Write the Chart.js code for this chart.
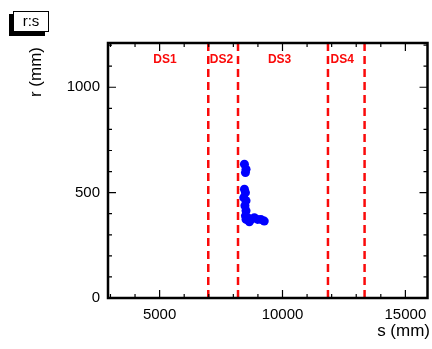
<!DOCTYPE html>
<html>
<head>
<meta charset="utf-8">
<script src="https://cdn.jsdelivr.net/npm/chart.js@4.4.0/dist/chart.umd.min.js"></script>
<style>
  body { margin: 0; background: #fff; }
  #wrap { width: 432px; height: 349px; }
</style>
</head>
<body>
<div id="wrap"><canvas id="chart" width="432" height="349"></canvas></div>
<script>
// hit positions along the beam line (s) and radius (r), both in mm
const sValues = [8450, 8516, 8492, 8451, 8492, 8423, 8516, 8472, 8516, 8492, 8516, 8585, 8653, 8717, 8855, 8988, 9121, 9258]
const rValues = [635, 611, 595, 516, 500, 476, 462, 438, 414, 390, 373, 381, 362, 373, 381, 373, 373, 365]

// detector section boundaries and their names
const sectionBounds = [6980, 8190, 11850, 13340]
const sectionNames = ["DS1", "DS2", "DS3", "DS4"]
const sectionLabelS = [5220, 7520, 9880, 12430]

const sMin = 2900, sMax = 15900
const rMin = 0, rMax = 1210
const sMajor = [5000, 10000, 15000]
const rMajor = [0, 500, 1000]

const hits = sValues.map((s, i) => ({ x: s, y: rValues[i] }))

// one vertical dashed line per boundary
const boundaryDatasets = sectionBounds.map(s => ({
    data: [{ x: s, y: rMin }, { x: s, y: rMax }],
    showLine: true,
    borderColor: "rgb(250, 10, 10)",
    borderWidth: 2.5,
    borderDash: [8, 5],
    pointRadius: 0,
    order: 2
}))

// frame, inward ticks, labels and the small title box
const framePlugin = {
    id: "frame",
    afterDraw(chart) {
        const ctx = chart.ctx
        const a = chart.chartArea
        const xs = chart.scales.x, ys = chart.scales.y
        ctx.save()

        // section labels
        ctx.fillStyle = "rgb(250, 10, 10)"
        ctx.font = "bold 12px 'Liberation Sans', Arial, sans-serif"
        ctx.textAlign = "center"
        ctx.textBaseline = "middle"
        sectionNames.forEach((name, i) => {
            ctx.fillText(name, xs.getPixelForValue(sectionLabelS[i]), 60)
        })

        // ticks on all four sides
        ctx.strokeStyle = "#000"
        ctx.lineWidth = 1.2
        ctx.beginPath()
        for (let s = 3000; s <= sMax; s += 1000) {
            const px = xs.getPixelForValue(s)
            const len = s % 5000 === 0 ? 8 : 4
            ctx.moveTo(px, a.bottom); ctx.lineTo(px, a.bottom - len)
            ctx.moveTo(px, a.top); ctx.lineTo(px, a.top + len)
        }
        for (let r = 100; r <= rMax; r += 100) {
            const py = ys.getPixelForValue(r)
            const len = r % 500 === 0 ? 8 : 4
            ctx.moveTo(a.left, py); ctx.lineTo(a.left + len, py)
            ctx.moveTo(a.right, py); ctx.lineTo(a.right - len, py)
        }
        ctx.stroke()

        // frame
        ctx.lineWidth = 2.5
        ctx.strokeRect(a.left, a.top, a.right - a.left, a.bottom - a.top)

        // axis titles
        ctx.fillStyle = "#000"
        ctx.font = "17px 'Liberation Sans', Arial, sans-serif"
        ctx.textAlign = "right"
        ctx.textBaseline = "middle"
        ctx.fillText("s (mm)", 430, 331)
        ctx.save()
        ctx.translate(36, 72)
        ctx.rotate(-Math.PI / 2)
        ctx.textAlign = "center"
        ctx.fillText("r (mm)", 0, 0)
        ctx.restore()

        // "r:s" box with drop shadow
        ctx.fillStyle = "#000"
        ctx.fillRect(9, 14, 36, 22)
        ctx.fillStyle = "#fff"
        ctx.fillRect(13, 11, 36, 21)
        ctx.lineWidth = 1
        ctx.strokeRect(13.5, 11.5, 35, 20)
        ctx.fillStyle = "#000"
        ctx.font = "15px 'Liberation Sans', Arial, sans-serif"
        ctx.textAlign = "center"
        ctx.fillText("r:s", 31, 22)

        ctx.restore()
    }
}

const tickFont = { family: "'Liberation Sans', Arial, sans-serif", size: 15 }

const config = {
    type: "scatter",
    data: {
        datasets: [{
            data: hits,
            backgroundColor: "rgb(0, 0, 255)",
            borderColor: "rgb(0, 0, 255)",
            pointRadius: 4.5,
            pointBorderWidth: 0,
            order: 1
        }, ...boundaryDatasets]
    },
    options: {
        responsive: false,
        animation: false,
        events: [],
        layout: { padding: { top: 43, right: 1, left: 0, bottom: 0 } },
        scales: {
            x: {
                type: "linear",
                min: sMin,
                max: sMax,
                afterBuildTicks: scale => { scale.ticks = sMajor.map(v => ({ value: v })) },
                afterFit: scale => {
                    scale.height = 51
                    scale.paddingLeft = 0
                    scale.paddingRight = 0
                },
                grid: { display: false },
                border: { display: false },
                ticks: {
                    color: "#000",
                    padding: 0,
                    maxRotation: 0,
                    font: tickFont,
                    callback: value => String(value)
                }
            },
            y: {
                type: "linear",
                min: rMin,
                max: rMax,
                afterBuildTicks: scale => { scale.ticks = rMajor.map(v => ({ value: v })) },
                afterFit: scale => {
                    scale.width = 108
                    scale.paddingTop = 0
                    scale.paddingBottom = 0
                },
                grid: { display: false },
                border: { display: false },
                ticks: {
                    color: "#000",
                    padding: 0,
                    font: tickFont,
                    callback: value => String(value)
                }
            }
        },
        plugins: {
            legend: { display: false },
            tooltip: { enabled: false }
        }
    },
    plugins: [framePlugin]
}

const chart = new Chart(document.getElementById("chart"), config)
</script>
</body>
</html>
